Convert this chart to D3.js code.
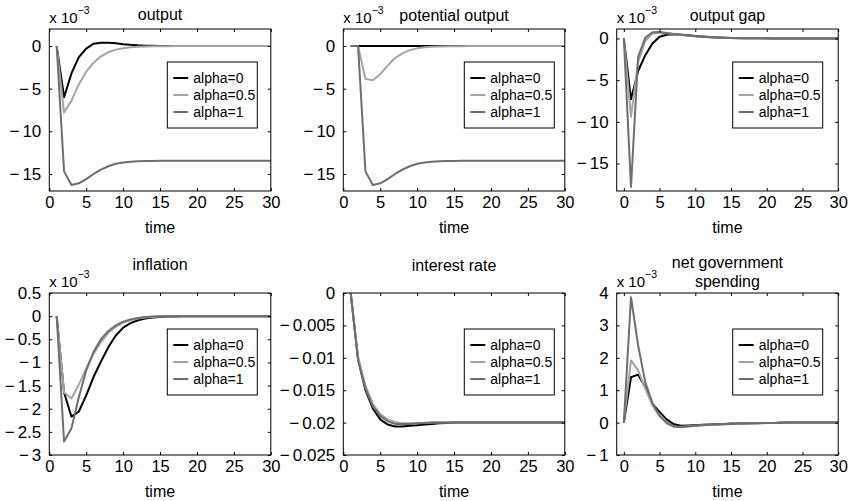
<!DOCTYPE html>
<html>
<head>
<meta charset="utf-8">
<script src="https://cdn.jsdelivr.net/npm/d3@7"></script>
<style>
  body { margin: 0; background: #fff; }
  svg { display: block; font-family: "Liberation Sans", Arial, Helvetica, sans-serif; }
</style>
</head>
<body>
<svg id="chart" width="857" height="501"></svg>
<script>
// time axis of the impulse responses
const timeFrom1 = [1, 2, 3, 4, 5, 6, 7, 8, 9, 10, 11, 12, 13, 14, 15, 16, 17, 18, 19, 20,
                   21, 22, 23, 24, 25, 26, 27, 28, 29, 30];
const timeFrom0 = [0, 1, 2, 3, 4, 5, 6, 7, 8, 9, 10, 11, 12, 13, 14, 15, 16, 17, 18, 19, 20,
                   21, 22, 23, 24, 25, 26, 27, 28, 29, 30];
const alphaLabels = ["alpha=0", "alpha=0.5", "alpha=1"];
const xTicks = [0, 5, 10, 15, 20, 25, 30];

// output (x 10^-3)
const outputA0  = [0, -6.0, -3.2, -1.3, -0.3, 0.28, 0.4, 0.4, 0.32, 0.22, 0.14, 0.08, 0.05, 0.03, 0.02,
                   0.01, 0.01, 0, 0, 0, 0, 0, 0, 0, 0, 0, 0, 0, 0, 0];
const outputA05 = [0, -7.8, -6.4, -4.5, -3.0, -1.95, -1.2, -0.72, -0.42, -0.25, -0.14, -0.08, -0.05, -0.03, -0.02,
                   -0.01, 0, 0, 0, 0, 0, 0, 0, 0, 0, 0, 0, 0, 0, 0];
const outputA1  = [0, -14.7, -16.3, -16.1, -15.6, -15.0, -14.5, -14.1, -13.8, -13.65, -13.57, -13.52, -13.49, -13.47, -13.46,
                   -13.45, -13.45, -13.45, -13.45, -13.45, -13.45, -13.45, -13.45, -13.45, -13.45, -13.45, -13.45, -13.45, -13.45, -13.45];

// potential output (x 10^-3)
const potentialA0  = [0, 0, 0, 0, 0, 0, 0, 0, 0, 0, 0, 0, 0, 0, 0,
                      0, 0, 0, 0, 0, 0, 0, 0, 0, 0, 0, 0, 0, 0, 0];
const potentialA05 = [0, 0, -3.85, -4.0, -3.3, -2.3, -1.4, -0.85, -0.48, -0.27, -0.15, -0.08, -0.05, -0.03, -0.02,
                      -0.01, 0, 0, 0, 0, 0, 0, 0, 0, 0, 0, 0, 0, 0, 0];
const potentialA1  = [0, 0, -14.7, -16.3, -16.1, -15.6, -15.0, -14.5, -14.1, -13.8, -13.65, -13.57, -13.52, -13.49, -13.47,
                      -13.46, -13.45, -13.45, -13.45, -13.45, -13.45, -13.45, -13.45, -13.45, -13.45, -13.45, -13.45, -13.45, -13.45, -13.45];

// output gap (x 10^-3), starts at t = 0
const gapA0  = [0, -7.3, -3.9, -2.0, -0.6, 0.2, 0.45, 0.5, 0.45, 0.38, 0.3, 0.23, 0.17, 0.13, 0.1, 0.07,
                0.05, 0.04, 0.03, 0.02, 0.02, 0.01, 0.01, 0.01, 0, 0, 0, 0, 0, 0, 0];
const gapA05 = [0, -9.4, -2.8, -0.3, 0.6, 0.7, 0.62, 0.52, 0.42, 0.33, 0.26, 0.2, 0.15, 0.11, 0.08, 0.06,
                0.04, 0.03, 0.02, 0.02, 0.01, 0.01, 0.01, 0, 0, 0, 0, 0, 0, 0, 0];
const gapA1  = [0, -17.8, -2.2, 0.1, 0.75, 0.78, 0.65, 0.54, 0.44, 0.35, 0.27, 0.2, 0.15, 0.11, 0.08, 0.06,
                0.04, 0.03, 0.02, 0.02, 0.01, 0.01, 0.01, 0, 0, 0, 0, 0, 0, 0, 0];

// inflation (x 10^-3)
const inflationA0  = [0, -1.65, -2.17, -2.06, -1.71, -1.31, -0.98, -0.67, -0.42, -0.25, -0.15, -0.09, -0.05, -0.03, -0.02,
                      -0.01, -0.01, 0, 0, 0, 0, 0, 0, 0, 0, 0, 0, 0, 0, 0];
const inflationA05 = [0, -1.65, -1.78, -1.48, -1.13, -0.81, -0.56, -0.36, -0.23, -0.14, -0.09, -0.05, -0.03, -0.02, -0.01,
                      0, 0, 0, 0, 0, 0, 0, 0, 0, 0, 0, 0, 0, 0, 0];
const inflationA1  = [0, -2.71, -2.42, -1.75, -1.17, -0.77, -0.5, -0.32, -0.2, -0.12, -0.07, -0.04, -0.02, -0.01, 0,
                      0, 0, 0, 0, 0, 0, 0, 0, 0, 0, 0, 0, 0, 0, 0];

// interest rate
const rateA0  = [0, -0.0102, -0.0150, -0.0178, -0.0195, -0.0203, -0.0206, -0.0206, -0.0205, -0.0204, -0.0203, -0.0202, -0.0201, -0.02005, -0.0200,
                 -0.0200, -0.0200, -0.0200, -0.0200, -0.0200, -0.0200, -0.0200, -0.0200, -0.0200, -0.0200, -0.0200, -0.0200, -0.0200, -0.0200, -0.0200];
const rateA05 = [0, -0.0098, -0.0143, -0.0171, -0.0187, -0.0195, -0.0199, -0.0201, -0.0201, -0.0201, -0.02005, -0.0200, -0.0200, -0.0200, -0.0200,
                 -0.0200, -0.0200, -0.0200, -0.0200, -0.0200, -0.0200, -0.0200, -0.0200, -0.0200, -0.0200, -0.0200, -0.0200, -0.0200, -0.0200, -0.0200];
const rateA1  = [0, -0.0104, -0.0148, -0.0175, -0.0190, -0.0198, -0.0202, -0.0202, -0.0202, -0.0201, -0.02005, -0.0200, -0.0200, -0.0200, -0.0200,
                 -0.0200, -0.0200, -0.0200, -0.0200, -0.0200, -0.0200, -0.0200, -0.0200, -0.0200, -0.0200, -0.0200, -0.0200, -0.0200, -0.0200, -0.0200];

// net government spending (x 10^-3), starts at t = 0
const spendingA0  = [0, 1.40, 1.48, 1.10, 0.58, 0.33, 0.10, -0.05, -0.10, -0.09, -0.08, -0.07, -0.06, -0.05, -0.04, -0.03,
                     -0.03, -0.02, -0.02, -0.01, -0.01, -0.01, 0, 0, 0, 0, 0, 0, 0, 0, 0];
const spendingA05 = [0, 1.92, 1.61, 1.05, 0.53, 0.2, -0.03, -0.13, -0.13, -0.11, -0.1, -0.08, -0.07, -0.06, -0.05, -0.04,
                     -0.03, -0.03, -0.02, -0.02, -0.01, -0.01, -0.01, 0, 0, 0, 0, 0, 0, 0, 0];
const spendingA1  = [0, 3.87, 2.38, 1.25, 0.6, 0.22, 0.0, -0.12, -0.14, -0.12, -0.1, -0.08, -0.07, -0.06, -0.05, -0.04,
                     -0.03, -0.03, -0.02, -0.02, -0.01, -0.01, -0.01, 0, 0, 0, 0, 0, 0, 0, 0];

const yTicksOutput = [-15, -10, -5, 0];
const yTicksInflation = [-3, -2.5, -2, -1.5, -1, -0.5, 0, 0.5];
const yTicksRate = [-0.025, -0.02, -0.015, -0.01, -0.005, 0];
const yTicksSpending = [-1, 0, 1, 2, 3, 4];

const lineColors = ["#000000", "#a4a4a4", "#6e6e6e"];

// layout
const colLeft = [49.3, 343.3, 616.7];
const rowTop = [29, 293];
const boxW = 221.5;
const boxH = 162;

const panels = [
  { title: ["output"], titleY: [19.5], t: timeFrom1, xDom: [0, 30], yDom: [-17, 2], yTicks: yTicksOutput,
    series: [outputA0, outputA05, outputA1], exp: true, col: 0, row: 0, leg: [118, 33] },
  { title: ["potential output"], titleY: [20.5], t: timeFrom1, xDom: [0, 30], yDom: [-17, 2], yTicks: yTicksOutput,
    series: [potentialA0, potentialA05, potentialA1], exp: true, col: 1, row: 0, leg: [121, 33] },
  { title: ["output gap"], titleY: [20.5], t: timeFrom0, xDom: [-1, 30], yDom: [-18.3, 1.14], yTicks: yTicksOutput,
    series: [gapA0, gapA05, gapA1], exp: true, col: 2, row: 0, leg: [116, 33] },
  { title: ["inflation"], titleY: [270], t: timeFrom1, xDom: [0, 30], yDom: [-3, 0.5], yTicks: yTicksInflation,
    series: [inflationA0, inflationA05, inflationA1], exp: true, col: 0, row: 1, leg: [118, 36] },
  { title: ["interest rate"], titleY: [271], t: timeFrom1, xDom: [0, 30], yDom: [-0.025, 0], yTicks: yTicksRate,
    series: [rateA0, rateA05, rateA1], exp: false, col: 1, row: 1, leg: [121, 36] },
  { title: ["net government", "spending"], titleY: [268, 287], t: timeFrom0, xDom: [-1, 30], yDom: [-1, 4], yTicks: yTicksSpending,
    series: [spendingA0, spendingA05, spendingA1], exp: true, col: 2, row: 1, leg: [116, 36] }
];

const svg = d3.select("#chart");
svg.append("rect").attr("width", 857).attr("height", 501).attr("fill", "#fff");

const fmt = d3.format("~g");

// put a little room after the minus sign, as in the original plot
function spaceMinus(sel) {
  sel.each(function () {
    const t = d3.select(this);
    const s = t.text();
    if (s.startsWith("\u2212")) {
      t.text(null);
      t.append("tspan").text("\u2212");
      t.append("tspan").attr("dx", 3).text(s.slice(1));
    }
  });
}

panels.forEach(p => {
  const x0 = colLeft[p.col];
  const y0 = rowTop[p.row];
  const g = svg.append("g").attr("transform", `translate(${x0},${y0})`);

  const x = d3.scaleLinear().domain(p.xDom).range([0, boxW]);
  const y = d3.scaleLinear().domain(p.yDom).range([boxH, 0]);

  // data lines, clipped to the box
  const clipId = `clip${p.col}${p.row}`;
  g.append("clipPath").attr("id", clipId)
    .append("rect").attr("width", boxW).attr("height", boxH);

  const line = d3.line().x((d, i) => x(p.t[i])).y(d => y(d));
  g.append("g").attr("clip-path", `url(#${clipId})`)
    .selectAll("path")
    .data(p.series)
    .join("path")
      .attr("d", d => line(d))
      .attr("fill", "none")
      .attr("stroke", (d, i) => lineColors[i])
      .attr("stroke-width", 2)
      .attr("stroke-linejoin", "round");

  // axes with inward ticks on all four sides
  const bottom = g.append("g").attr("transform", `translate(0,${boxH})`)
    .call(d3.axisBottom(x).tickValues(xTicks).tickSize(-3).tickPadding(5).tickFormat(fmt));
  const left = g.append("g")
    .call(d3.axisLeft(y).tickValues(p.yTicks).tickSize(-3).tickPadding(8).tickFormat(fmt));
  g.append("g").call(d3.axisTop(x).tickValues(xTicks).tickSize(-3).tickFormat(""));
  g.append("g").attr("transform", `translate(${boxW},0)`)
    .call(d3.axisRight(y).tickValues(p.yTicks).tickSize(-3).tickFormat(""));

  g.selectAll(".domain").remove();
  g.selectAll(".tick line").attr("stroke", "#000");
  bottom.selectAll("text").attr("font-size", 16.5).attr("fill", "#000").attr("font-family", null);
  left.selectAll("text").attr("font-size", 17).attr("fill", "#000").attr("font-family", null).call(spaceMinus);

  g.append("rect").attr("width", boxW).attr("height", boxH)
    .attr("fill", "none").attr("stroke", "#000").attr("stroke-width", 1);

  // x label
  g.append("text").attr("x", boxW / 2).attr("y", boxH + 42)
    .attr("text-anchor", "middle").attr("font-size", 16).text("time");

  // title
  p.title.forEach((s, i) => {
    svg.append("text").attr("x", x0 + boxW / 2).attr("y", p.titleY[i])
      .attr("text-anchor", "middle").attr("font-size", 16).text(s);
  });

  // exponent label
  if (p.exp) {
    const e = g.append("text").attr("x", 0).attr("y", -6).attr("font-size", 15);
    e.append("tspan").text("x 10");
    e.append("tspan").attr("dy", -9).attr("font-size", 10.5).text("\u22123");
  }

  // legend
  const lg = g.append("g").attr("transform", `translate(${p.leg[0]},${p.leg[1]})`);
  lg.append("rect").attr("width", 90).attr("height", 66)
    .attr("fill", "#fff").attr("stroke", "#000");
  alphaLabels.forEach((s, i) => {
    const yy = 16 + i * 17;
    lg.append("line").attr("x1", 6).attr("x2", 21).attr("y1", yy).attr("y2", yy)
      .attr("stroke", lineColors[i]).attr("stroke-width", 2);
    lg.append("text").attr("x", 26).attr("y", yy + 5).attr("font-size", 14).text(s);
  });
});
</script>
</body>
</html>
